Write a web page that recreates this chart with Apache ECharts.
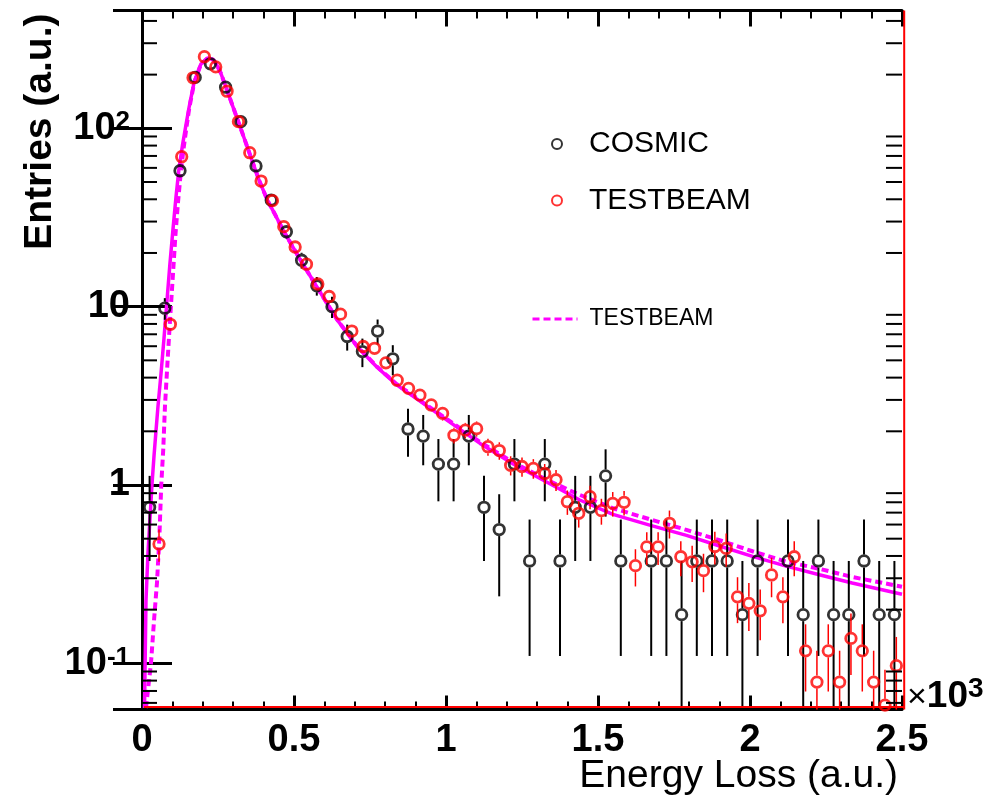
<!DOCTYPE html>
<html><head><meta charset="utf-8">
<script src="https://cdn.jsdelivr.net/npm/echarts@6/dist/echarts.min.js"></script>
<style>html,body{margin:0;padding:0;background:#fff}#c{width:1005px;height:800px}</style>
</head><body><div id="c"></div>
<script>
const FONT = '"Liberation Sans", Arial, Helvetica, sans-serif';

// ---- axes ----
const X_MIN = 0, X_MAX = 2500, X_MAJOR = 500;
const Y_MIN = 0.0551, Y_MAX = 457.7;
const yMinorTicks = [0.06,0.07,0.08,0.09, 0.2,0.3,0.4,0.5,0.6,0.7,0.8,0.9,
  2,3,4,5,6,7,8,9, 20,30,40,50,60,70,80,90, 200,300,400];

// ---- COSMIC histogram (bin width 50) ----
const COSMIC_BIN = 50;
const cosmicValues = [0.75, 9.8, 57.8, 193, 230, 170, 109, 61.5, 39.6, 26.3,
  18.2, 13.1, 10.0, 6.8, 5.6, 7.3, 5.1, 2.06, 1.88, 1.31,
  1.31, 1.88, 0.75, 0.5625, 1.31, 0.375, 1.31, 0.375, 0.75, 0.75,
  1.125, 0.375, null, 0.375, 0.375, 0.1875, 0.375, 0.375, 0.375, 0.1875,
  0.375, null, 0.375, 0.1875, 0.375, 0.1875, 0.1875, 0.375, 0.1875, 0.1875];
const cosmicErrors = [0.375, 1.36, 3.29, 6.02, 6.57, 5.65, 4.52, 3.40, 2.72, 2.22,
  1.85, 1.57, 1.37, 1.13, 1.02, 1.17, 0.98, 0.62, 0.59, 0.50,
  0.50, 0.59, 0.375, 0.325, 0.50, 0.265, 0.50, 0.265, 0.375, 0.375,
  0.46, 0.265, null, 0.265, 0.265, 0.1875, 0.265, 0.265, 0.265, 0.1875,
  0.265, null, 0.265, 0.1875, 0.265, 0.1875, 0.1875, 0.265, 0.1875, 0.1875];

// ---- TESTBEAM histogram (67 bins over 0-2500) ----
const TESTBEAM_BIN = 2500 / 67;
const testbeamValues = [null, 0.467, 7.96, 69.3, 192, 252, 221, 161.5, 109, 73,
  50.6, 39.3, 28.1, 21.6, 17.3, 13.4, 11.4, 9.08, 7.3, 5.98,
  5.84, 4.84, 3.87, 3.48, 3.19, 2.81, 2.52, 1.9, 2.03, 2.07,
  1.64, 1.56, 1.29, 1.27, 1.24, 1.16, 1.07, 0.806, 0.694, 0.86,
  0.718, 0.789, 0.80, 0.353, 0.45, 0.45, 0.61, 0.396, 0.371, 0.331,
  0.452, 0.441, 0.236, 0.217, 0.197, 0.313, 0.236, 0.396, 0.1175, 0.0785,
  0.1175, 0.0785, 0.138, 0.1175, 0.0785, 0.0583, 0.097];
const testbeamErrors = [null, 0.096, 0.395, 1.165, 1.94, 2.22, 2.08, 1.78, 1.46, 1.196,
  0.996, 0.878, 0.742, 0.651, 0.582, 0.512, 0.473, 0.422, 0.378, 0.342,
  0.338, 0.308, 0.275, 0.261, 0.250, 0.235, 0.222, 0.193, 0.1995, 0.2014,
  0.179, 0.175, 0.159, 0.158, 0.156, 0.151, 0.145, 0.126, 0.117, 0.130,
  0.119, 0.124, 0.125, 0.0832, 0.0939, 0.0939, 0.109, 0.0881, 0.0853, 0.0805,
  0.0941, 0.093, 0.068, 0.0652, 0.0621, 0.0783, 0.068, 0.0881, 0.048, 0.0392,
  0.048, 0.0392, 0.052, 0.048, 0.0392, 0.0338, 0.0436];

// ---- fitted curves ----
const fitSolid = [[8.2,0.0562],[13.1,0.224],[19.7,0.417],[26.2,0.646],[32.8,1.0],[39.4,1.445],
  [45.9,2.0],[52.5,2.75],[62.3,4.17],[72.2,6.6],[82,10.7],[91.9,17.4],[101.7,26.9],[111.5,40.7],
  [121.4,58.9],[133.5,81],[144.4,104],[155.2,132],[171.6,182],[193.6,229],[215.6,248],[232.9,243],
  [242.8,232],[259.2,204],[275.6,171],[302.8,127],[330.4,93.8],[357.6,69.3],[384.8,51.3],
  [412.4,39.6],[439.6,32.4],[466.9,26.3],[521.7,18.2],[576.4,12.8],[642.1,8.43],[707.7,5.98],
  [773.3,4.57],[838.9,3.63],[893.4,3.13],[1003,2.31],[1112,1.71],[1221,1.31],[1331,1.04],
  [1440,0.824],[1549,0.684],[1670,0.596],[1791,0.522],[1900,0.455],[2008,0.398],[2119,0.351],
  [2228,0.314],[2336,0.282],[2500,0.244]];
const fitDashed = [[13.1,0.0562],[29.5,0.1],[40.4,0.182],[49.2,0.282],[56.8,0.49],[63.3,1.0],
  [69.9,1.585],[75.5,2.75],[84.3,5.01],[92.8,8.77],[102.7,16.0],[109.9,25.1],[118.1,38.0],
  [128,57.5],[137.8,79.4],[147.6,105],[155.2,129],[171.6,180],[193.6,228],[215.6,247],
  [232.9,243],[242.8,232],[259.2,204],[275.6,171],[302.8,127],[330.4,93.8],[357.6,69.3],
  [384.8,51.3],[412.4,39.6],[439.6,32.4],[466.9,26.3],[521.7,18.2],[576.4,12.8],[642.1,8.45],
  [707.7,6.0],[773.3,4.6],[838.9,3.66],[893.4,3.16],[1003,2.34],[1112,1.74],[1221,1.34],
  [1331,1.07],[1440,0.88],[1549,0.741],[1670,0.643],[1791,0.56],[1900,0.49],[2008,0.425],
  [2119,0.372],[2228,0.339],[2336,0.305],[2500,0.269]];

// ---- build series data from bins ----
function binPoints(values, errors, width) {
  const out = [];
  values.forEach((v, i) => { if (v != null) out.push([width * (i + 0.5), v, errors[i]]); });
  return out;
}
const cosmicPts = binPoints(cosmicValues, cosmicErrors, COSMIC_BIN);
const testbeamPts = binPoints(testbeamValues, testbeamErrors, TESTBEAM_BIN);

function errBar(color, width, gap) {
  return function (params, api) {
    const x = api.value(0), v = api.value(1), e = api.value(2);
    const cs = params.coordSys;
    const c = api.coord([x, v]);
    const top = Math.max(cs.y, api.coord([x, v + e])[1]);
    const lo = v - e;
    let bot = lo > 0 ? api.coord([x, lo])[1] : cs.y + cs.height;
    bot = Math.min(bot, cs.y + cs.height);
    const ch = [];
    if (top < c[1] - gap) ch.push({type: 'line', shape: {x1: c[0], y1: top, x2: c[0], y2: c[1] - gap},
      style: {stroke: color, lineWidth: width}});
    if (bot > c[1] + gap) ch.push({type: 'line', shape: {x1: c[0], y1: c[1] + gap, x2: c[0], y2: bot},
      style: {stroke: color, lineWidth: width}});
    return {type: 'group', children: ch};
  };
}

function yLabel(v) {
  const p = Math.round(Math.log10(v));
  if (p === 0) return '1';
  if (p === 1) return '10';
  return '{b|10}{s|' + p + '}';
}
const yRich = {
  b: {fontFamily: FONT, fontWeight: 'bold', fontSize: 38, lineHeight: 38, verticalAlign: 'bottom', color: '#000'},
  s: {fontFamily: FONT, fontWeight: 'bold', fontSize: 26, lineHeight: 26, padding: [0, 0, 15, 0], verticalAlign: 'top', color: '#000'}
};

const chart = echarts.init(document.getElementById('c'), null, {renderer: 'canvas'});
chart.setOption({
  animation: false,
  backgroundColor: '#fff',
  grid: {left: 142, right: 103, top: 10.5, bottom: 90.5, outerBoundsMode: 'none', containLabel: false},
  xAxis: [{
    type: 'value', min: X_MIN, max: X_MAX, interval: X_MAJOR, position: 'bottom',
    name: 'Energy Loss (a.u.)', nameLocation: 'end', nameGap: -4, nameMoveOverlap: false,
    nameTextStyle: {fontFamily: FONT, fontSize: 39, color: '#000', align: 'right', verticalAlign: 'top', padding: [47, 0, 0, 0]},
    axisLine: {lineStyle: {color: '#000', width: 3}},
    axisTick: {inside: true, length: 14, lineStyle: {color: '#000', width: 3}},
    minorTick: {show: true, splitNumber: 5, length: 8, lineStyle: {color: '#000', width: 2}},
    axisLabel: {margin: 12, fontFamily: FONT, fontWeight: 'bold', fontSize: 38, color: '#000',
      formatter: v => String(v / 1000)},
    splitLine: {show: false}
  }, {
    type: 'value', min: X_MIN, max: X_MAX, interval: X_MAJOR, position: 'top',
    axisLine: {lineStyle: {color: '#000', width: 3}},
    axisTick: {inside: true, length: 16, lineStyle: {color: '#000', width: 3}},
    minorTick: {show: true, splitNumber: 5, length: 8, lineStyle: {color: '#000', width: 2}},
    axisLabel: {show: false}, splitLine: {show: false}
  }],
  yAxis: [{
    type: 'log', logBase: 10, min: Y_MIN, max: Y_MAX, position: 'left',
    name: 'Entries (a.u.)', nameLocation: 'end', nameRotate: 90, nameGap: -3, nameMoveOverlap: false,
    nameTextStyle: {fontFamily: FONT, fontWeight: 'bold', fontSize: 39, color: '#000', align: 'right', verticalAlign: 'bottom', padding: [0, 0, 82, 0]},
    axisLine: {lineStyle: {color: '#000', width: 3}},
    axisTick: {inside: true, length: 30, lineStyle: {color: '#000', width: 3}},
    axisLabel: {margin: 12, showMinLabel: false, showMaxLabel: false, formatter: yLabel, rich: yRich,
      fontFamily: FONT, fontWeight: 'bold', fontSize: 38, color: '#000', align: 'right'},
    splitLine: {show: false}
  }, {
    type: 'log', logBase: 10, min: Y_MIN, max: Y_MAX, position: 'right',
    axisLine: {lineStyle: {color: '#000', width: 3}},
    axisTick: {inside: true, length: 29, lineStyle: {color: '#000', width: 3}},
    axisLabel: {show: false}, splitLine: {show: false}
  }],
  legend: [{
    data: [{name: 'COSMIC', icon: 'circle', itemStyle: {color: 'rgba(0,0,0,0)', borderColor: '#000', borderWidth: 2}}],
    left: 551, top: 129, padding: 0, itemWidth: 10, itemHeight: 10, selectedMode: false,
    textStyle: {fontFamily: FONT, fontSize: 30, lineHeight: 30, color: '#000', padding: [0, 0, 0, 22]}
  }, {
    data: [{name: 'TESTBEAM', icon: 'circle', itemStyle: {color: 'rgba(0,0,0,0)', borderColor: '#f00', borderWidth: 2}}],
    left: 551, top: 185.5, padding: 0, itemWidth: 10, itemHeight: 10, selectedMode: false,
    textStyle: {fontFamily: FONT, fontSize: 30, lineHeight: 30, color: '#000', padding: [0, 0, 0, 22]}
  }, {
    data: [{name: 'TESTBEAM fit'}], formatter: () => 'TESTBEAM',
    left: 531, top: 307.5, padding: 0, itemWidth: 45, itemHeight: 14, selectedMode: false,
    lineStyle: {color: '#ff00ff', width: 3, type: [7, 4]},
    itemStyle: {color: 'rgba(0,0,0,0)', borderColor: 'rgba(0,0,0,0)', borderWidth: 0, opacity: 0},
    textStyle: {fontFamily: FONT, fontSize: 23, lineHeight: 23, color: '#000', padding: [0, 0, 0, 7]}
  }],
  graphic: [{
    type: 'text', x: 907, y: 675, silent: true,
    style: {
      text: '{x|×}{b|10}{s|3}', verticalAlign: 'top', align: 'left',
      rich: {
        x: {fontFamily: FONT, fontSize: 34, lineHeight: 40, verticalAlign: 'bottom', fill: '#000'},
        b: {fontFamily: FONT, fontSize: 37, fontWeight: 'bold', lineHeight: 40, verticalAlign: 'bottom', fill: '#000'},
        s: {fontFamily: FONT, fontSize: 28, fontWeight: 'bold', lineHeight: 28, padding: [0, 0, 24, 0], verticalAlign: 'top', fill: '#000'}
      }
    }
  }],
  series: [{
    name: 'COSMIC fit', type: 'line', data: fitSolid, symbol: 'none', showSymbol: false, clip: true,
    lineStyle: {color: '#ff00ff', width: 3.5}, silent: true, z: 2
  }, {
    name: 'TESTBEAM fit', type: 'line', data: fitDashed, symbol: 'none', showSymbol: false, clip: true,
    lineStyle: {color: '#ff00ff', width: 4, type: [7, 4]}, itemStyle: {color: '#ff00ff'}, silent: true, z: 2
  }, {
    type: 'custom', data: cosmicPts, encode: {x: 0, y: 1}, renderItem: errBar('#000', 2, 6.5), silent: true, z: 3
  }, {
    name: 'COSMIC', type: 'scatter', data: cosmicPts.map(p => [p[0], p[1]]), symbol: 'circle', symbolSize: 10.5,
    itemStyle: {color: 'rgba(0,0,0,0)', borderColor: '#000', borderWidth: 2.8}, silent: true, z: 3
  }, {
    type: 'custom', data: testbeamPts, encode: {x: 0, y: 1}, renderItem: errBar('#f00', 1.5, 6.5), silent: true, z: 4
  }, {
    name: 'TESTBEAM', type: 'scatter', data: testbeamPts.map(p => [p[0], p[1]]), symbol: 'circle', symbolSize: 10.5,
    itemStyle: {color: 'rgba(0,0,0,0)', borderColor: '#f00', borderWidth: 2.8}, silent: true, z: 4
  }, {
    type: 'custom', data: yMinorTicks.map(v => [0, v]), encode: {x: 0, y: 1}, silent: true, z: 5,
    renderItem: function (params, api) {
      const cs = params.coordSys;
      const y = api.coord([0, api.value(1)])[1];
      return {type: 'group', children: [
        {type: 'line', shape: {x1: cs.x, y1: y, x2: cs.x + 15, y2: y}, style: {stroke: '#000', lineWidth: 2}},
        {type: 'line', shape: {x1: cs.x + cs.width - 16, y1: y, x2: cs.x + cs.width, y2: y}, style: {stroke: '#000', lineWidth: 2}}
      ]};
    }
  }, {
    type: 'custom', data: [[0, 1]], encode: {x: 0, y: 1}, silent: true, z: 5,
    renderItem: function (params, api) {
      const cs = params.coordSys;
      return {type: 'group', children: [
        {type: 'line', shape: {x1: cs.x + 2, y1: cs.y + cs.height - 2.5, x2: cs.x + cs.width + 3, y2: cs.y + cs.height - 2.5}, style: {stroke: '#f00', lineWidth: 2}},
        {type: 'line', shape: {x1: cs.x + cs.width + 2.2, y1: cs.y, x2: cs.x + cs.width + 2.2, y2: cs.y + cs.height}, style: {stroke: '#f00', lineWidth: 2}}
      ]};
    }
  }]
});
</script></body></html>
